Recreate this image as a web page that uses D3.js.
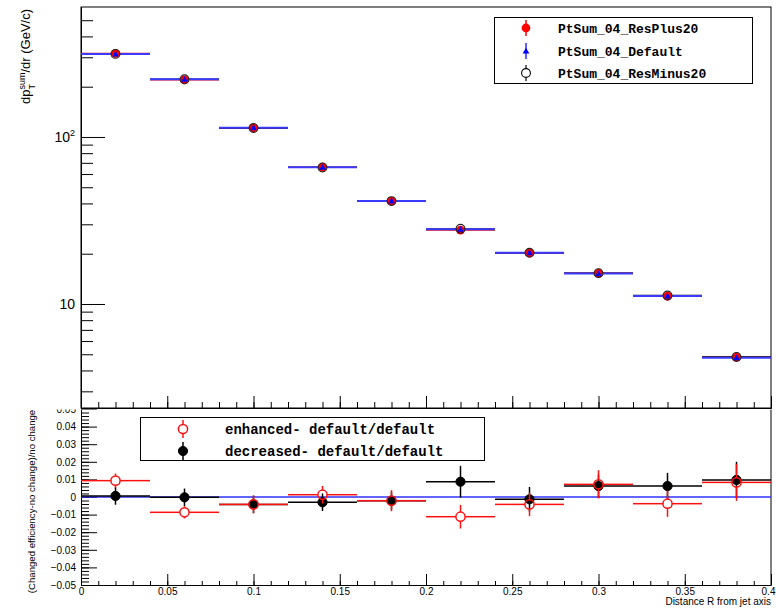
<!DOCTYPE html>
<html>
<head>
<meta charset="utf-8">
<script src="https://cdn.jsdelivr.net/npm/d3@7"></script>
<style>
  body { margin: 0; background: #fff; }
  svg { display: block; }
</style>
</head>
<body>
<svg id="chart" width="776" height="608"></svg>
<script>
// ---- data: summed pT per annulus vs distance from the jet axis ----
const binCenters   = [0.02, 0.06, 0.10, 0.14, 0.18, 0.22, 0.26, 0.30, 0.34, 0.38];
const binHalfWidth = 0.02;

const ptsumResPlus20  = [316.9, 219.7, 113.2, 66.0, 41.3, 27.7, 20.2, 15.3, 11.13, 4.81];
const ptsumDefault    = [314.0, 221.6, 113.7, 65.9, 41.4, 28.0, 20.3, 15.2, 11.17, 4.77];
const ptsumResMinus20 = [314.2, 221.6, 113.2, 65.7, 41.3, 28.2, 20.27, 15.3, 11.24, 4.82];

// relative change with respect to the default efficiency
const ratioEnhanced     = [0.0093, -0.0087, -0.0042, 0.0013, -0.0021, -0.0112, -0.0042, 0.0072, -0.0038, 0.0083];
const ratioEnhancedErr  = [0.0040, 0.0035, 0.0050, 0.0050, 0.0060, 0.0067, 0.0067, 0.0080, 0.0075, 0.0105];
const ratioDecreased    = [0.0006, -0.0002, -0.0042, -0.0030, -0.0021, 0.0087, -0.0013, 0.0062, 0.0062, 0.0097];
const ratioDecreasedErr = [0.0050, 0.0050, 0.0050, 0.0050, 0.0050, 0.0090, 0.0070, 0.0065, 0.0075, 0.0103];

const xMajorTicks  = [0, 0.05, 0.1, 0.15, 0.2, 0.25, 0.3, 0.35, 0.4];
const xTickLabels  = ["0", "0.05", "0.1", "0.15", "0.2", "0.25", "0.3", "0.35", "0.4"];
const ratioMajorTicks = [-0.05, -0.04, -0.03, -0.02, -0.01, 0, 0.01, 0.02, 0.03, 0.04, 0.05];
const logMajorTicks = [10, 100];
const logTickLabels = [["10", ""], ["10", "2"]];
const logMinorTicks = [3, 4, 5, 6, 7, 8, 9, 20, 30, 40, 50, 60, 70, 80, 90, 200, 300, 400, 500];

const upperLegend = ["PtSum_04_ResPlus20", "PtSum_04_Default", "PtSum_04_ResMinus20"];
const lowerLegend = ["enhanced- default/default", "decreased- default/default"];

// ---- layout ----
const X0 = 81, X1 = 771, TOP = 7, MID = 408, BOT = 585;
const SANS = "'Liberation Sans', Arial, Helvetica, sans-serif";
const MONO = "'Liberation Mono', 'Courier New', monospace";

const svg = d3.select("#chart");
const x = d3.scaleLinear().domain([0, 0.4]).range([X0, X1]);
const yTop = d3.scaleLog().domain([2.384, 600]).range([MID, TOP]);
const yBot = d3.scaleLinear().domain([-0.05, 0.05]).range([BOT, 409]);

const xMinorTicks = d3.range(0, 41).map(k => k / 100);
const ratioMinorTicks = d3.range(-50, 51, 2).map(k => k / 1000);
const fmtRatio = d => (Math.abs(d) < 1e-9 ? "0" : d3.format(".2f")(d));

function styleAxis(g, fontSize) {
  g.selectAll("line").attr("stroke", "#000").attr("stroke-width", 1);
  g.selectAll("path.domain").attr("stroke", "#000").attr("stroke-width", 1);
  g.selectAll("text").attr("fill", "#000").style("font-family", SANS).style("font-size", fontSize + "px");
}

// error bar segments that leave a gap of `gap` pixels around the marker
function crossSegments(cx, cy, xl, xr, yt, yb, gap) {
  const segs = [];
  if (cx - gap > xl) segs.push([xl, cy, cx - gap, cy]);
  if (xr > cx + gap) segs.push([cx + gap, cy, xr, cy]);
  if (cy - gap > yt) segs.push([cx, yt, cx, cy - gap]);
  if (yb > cy + gap) segs.push([cx, cy + gap, cx, yb]);
  return segs;
}

// ================= lower panel: relative change =================
const lower = svg.append("g");

lower.append("g").attr("transform", `translate(${X0},0)`)
  .call(d3.axisLeft(yBot).tickValues(ratioMinorTicks).tickSize(-8).tickSizeOuter(0).tickFormat(""))
  .call(g => styleAxis(g, 10));
lower.append("g").attr("transform", `translate(${X0},0)`)
  .call(d3.axisLeft(yBot).tickValues(ratioMajorTicks).tickSize(-16).tickSizeOuter(0).tickPadding(5).tickFormat(fmtRatio))
  .call(g => styleAxis(g, 10));

lower.append("g").attr("transform", `translate(0,${BOT})`)
  .call(d3.axisBottom(x).tickValues(xMinorTicks).tickSize(-4).tickSizeOuter(0).tickFormat(""))
  .call(g => styleAxis(g, 10));
lower.append("g").attr("transform", `translate(0,${BOT})`)
  .call(d3.axisBottom(x).tickValues(xMajorTicks).tickSize(-11).tickSizeOuter(0).tickPadding(3)
        .tickFormat((d, i) => xTickLabels[i]))
  .call(g => styleAxis(g, 10))
  .call(g => g.selectAll(".tick:last-of-type text").attr("dx", -3));

lower.append("line").attr("x1", X1).attr("x2", X1).attr("y1", MID).attr("y2", BOT)
  .attr("stroke", "#000").attr("stroke-width", 1);

// zero reference
lower.append("line").attr("x1", x(0)).attr("x2", x(0.4)).attr("y1", yBot(0)).attr("y2", yBot(0))
  .attr("stroke", "#3030ff").attr("stroke-width", 1.5);

function drawRatio(vals, errs, color, filled) {
  const g = lower.append("g");
  const r = 4.6;
  vals.forEach((v, i) => {
    const cx = x(binCenters[i]), cy = yBot(v);
    const segs = crossSegments(cx, cy, x(binCenters[i] - binHalfWidth), x(binCenters[i] + binHalfWidth),
                               yBot(v + errs[i]), yBot(v - errs[i]), filled ? 0 : r);
    segs.forEach(s => g.append("line").attr("x1", s[0]).attr("y1", s[1]).attr("x2", s[2]).attr("y2", s[3])
      .attr("stroke", color).attr("stroke-width", 1.5));
  });
  g.selectAll("circle").data(vals).join("circle")
    .attr("cx", (d, i) => x(binCenters[i])).attr("cy", d => yBot(d)).attr("r", r)
    .attr("fill", filled ? color : "none").attr("stroke", color).attr("stroke-width", filled ? 1 : 1.5);
}
drawRatio(ratioDecreased, ratioDecreasedErr, "#000", true);
drawRatio(ratioEnhanced, ratioEnhancedErr, "#ff1010", false);

// lower legend
const bl = lower.append("g");
bl.append("rect").attr("x", 140.5).attr("y", 417.5).attr("width", 344).attr("height", 43)
  .attr("fill", "#fff").attr("stroke", "#000").attr("stroke-width", 1);
const blRows = [429, 451];
const blColors = ["#ff1010", "#000"];
lowerLegend.forEach((label, i) => {
  const cy = blRows[i], cx = 183, filled = i === 1;
  crossSegments(cx, cy, cx, cx, cy - 9, cy + 9, filled ? 0 : 4.6).forEach(s =>
    bl.append("line").attr("x1", s[0]).attr("y1", s[1]).attr("x2", s[2]).attr("y2", s[3])
      .attr("stroke", blColors[i]).attr("stroke-width", 1.5));
  bl.append("circle").attr("cx", cx).attr("cy", cy).attr("r", 4.6)
    .attr("fill", filled ? blColors[i] : "none").attr("stroke", blColors[i]).attr("stroke-width", filled ? 1 : 1.5);
  bl.append("text").attr("x", 225).attr("y", cy + 5).text(label)
    .style("font-family", MONO).style("font-weight", "bold").style("font-size", "14px").attr("fill", "#000");
});

// lower axis titles
lower.append("text").attr("x", X1).attr("y", 605).attr("text-anchor", "end")
  .style("font-family", SANS).style("font-size", "10px").text("Distance R from jet axis");
lower.append("text").attr("transform", "translate(35,501.5) rotate(-90)").attr("text-anchor", "middle")
  .style("font-family", SANS).style("font-size", "9.6px").text("(Changed efficiency-no change)/no change");

// ================= upper panel: summed pT =================
const upper = svg.append("g");
upper.append("rect").attr("x", 0).attr("y", 0).attr("width", 776).attr("height", MID + 1.5).attr("fill", "#fff");
upper.append("rect").attr("x", X0).attr("y", TOP).attr("width", X1 - X0).attr("height", MID - TOP)
  .attr("fill", "none").attr("stroke", "#000").attr("stroke-width", 1);

upper.append("g").attr("transform", `translate(${X0},0)`)
  .call(d3.axisLeft(yTop).tickValues(logMinorTicks).tickSize(-12).tickSizeOuter(0).tickFormat(""))
  .call(g => styleAxis(g, 14));
upper.append("g").attr("transform", `translate(${X0},0)`)
  .call(d3.axisLeft(yTop).tickValues(logMajorTicks).tickSize(-24).tickSizeOuter(0).tickFormat(""))
  .call(g => styleAxis(g, 14));
logMajorTicks.forEach((v, i) => {
  const t = upper.append("text").attr("x", 75).attr("y", yTop(v)).attr("dy", "0.36em").attr("text-anchor", "end")
    .style("font-family", SANS).style("font-size", "14px").attr("fill", "#000");
  t.append("tspan").text(logTickLabels[i][0]);
  if (logTickLabels[i][1]) t.append("tspan").attr("dy", -6).style("font-size", "9px").text(logTickLabels[i][1]);
});

upper.append("g").attr("transform", `translate(0,${MID})`)
  .call(d3.axisBottom(x).tickValues(xMinorTicks).tickSize(-6).tickSizeOuter(0).tickFormat(""))
  .call(g => styleAxis(g, 10));
upper.append("g").attr("transform", `translate(0,${MID})`)
  .call(d3.axisBottom(x).tickValues(xMajorTicks).tickSize(-12).tickSizeOuter(0).tickFormat(""))
  .call(g => styleAxis(g, 10));

function hBars(vals, color, width) {
  upper.append("g").selectAll("line").data(vals).join("line")
    .attr("x1", (d, i) => x(binCenters[i] - binHalfWidth))
    .attr("x2", (d, i) => x(binCenters[i] + binHalfWidth))
    .attr("y1", d => yTop(d)).attr("y2", d => yTop(d))
    .attr("stroke", color).attr("stroke-width", width);
}
hBars(ptsumResPlus20, "#ff0000", 1.3);
hBars(ptsumResMinus20, "#000", 1.3);
hBars(ptsumDefault, "#3a3aff", 2);

const tri = d3.symbol(d3.symbolTriangle, 20);
upper.append("g").selectAll("circle").data(ptsumResPlus20).join("circle")
  .attr("cx", (d, i) => x(binCenters[i])).attr("cy", d => yTop(d)).attr("r", 4.4).attr("fill", "#ff0000");
upper.append("g").selectAll("path").data(ptsumDefault).join("path")
  .attr("d", tri).attr("transform", (d, i) => `translate(${x(binCenters[i])},${yTop(d) + 0.6})`).attr("fill", "#0000ff");
upper.append("g").selectAll("circle").data(ptsumResMinus20).join("circle")
  .attr("cx", (d, i) => x(binCenters[i])).attr("cy", d => yTop(d)).attr("r", 4.4)
  .attr("fill", "none").attr("stroke", "#222").attr("stroke-width", 1.1);

// upper legend
const tl = upper.append("g");
tl.append("rect").attr("x", 494.5).attr("y", 17.5).attr("width", 258).attr("height", 66)
  .attr("fill", "#fff").attr("stroke", "#000").attr("stroke-width", 1);
const tlRows = [28, 51, 73];
const tlX = 526;
// ResPlus20: filled red circle
tl.append("line").attr("x1", tlX).attr("x2", tlX).attr("y1", tlRows[0] - 8).attr("y2", tlRows[0] + 8)
  .attr("stroke", "#ff0000").attr("stroke-width", 1.5);
tl.append("circle").attr("cx", tlX).attr("cy", tlRows[0]).attr("r", 4.4).attr("fill", "#ff0000");
// Default: blue triangle
tl.append("line").attr("x1", tlX).attr("x2", tlX).attr("y1", tlRows[1] - 8).attr("y2", tlRows[1] + 8)
  .attr("stroke", "#2a2aff").attr("stroke-width", 1.5);
tl.append("path").attr("d", tri).attr("transform", `translate(${tlX},${tlRows[1] + 0.6})`).attr("fill", "#0000ff");
// ResMinus20: open circle
crossSegments(tlX, tlRows[2], tlX, tlX, tlRows[2] - 8, tlRows[2] + 8, 4.4).forEach(s =>
  tl.append("line").attr("x1", s[0]).attr("y1", s[1]).attr("x2", s[2]).attr("y2", s[3])
    .attr("stroke", "#000").attr("stroke-width", 1.2));
tl.append("circle").attr("cx", tlX).attr("cy", tlRows[2]).attr("r", 4.4)
  .attr("fill", "none").attr("stroke", "#000").attr("stroke-width", 1.1);
upperLegend.forEach((label, i) => {
  tl.append("text").attr("x", 558).attr("y", tlRows[i] + 4.5).text(label)
    .style("font-family", MONO).style("font-weight", "bold").style("font-size", "13px").attr("fill", "#000");
});

// upper y title: dp_T^sum/dr (GeV/c)
const yt = upper.append("text").attr("transform", "translate(30,9) rotate(-90)").attr("text-anchor", "end")
  .style("font-family", SANS).style("font-size", "13px").attr("fill", "#000");
yt.append("tspan").text("dp");
yt.append("tspan").attr("dy", -5).style("font-size", "9px").text("sum");
yt.append("tspan").attr("dx", -17).attr("dy", 10).style("font-size", "9px").text("T");
yt.append("tspan").attr("dx", 11.5).attr("dy", -5).text("/dr (GeV/c)");
</script>
</body>
</html>
